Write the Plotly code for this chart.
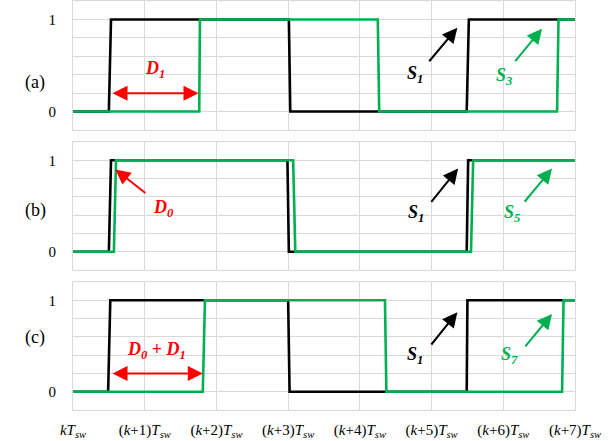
import plotly.graph_objects as go

# ---- data (time in units of T_sw, state 0/1) ----
t_S1_a = [0, 0.50, 0.53, 3.01, 3.03, 5.49, 5.52, 7]
v_S1_a = [0, 0, 1, 1, 0, 0, 1, 1]
t_S3_a = [0, 1.76, 1.77, 4.25, 4.27, 6.75, 6.77, 7]
v_S3_a = [0, 0, 1, 1, 0, 0, 1, 1]

t_S1_b = [0, 0.50, 0.53, 2.99, 3.01, 5.49, 5.51, 7]
v_S1_b = [0, 0, 1, 1, 0, 0, 1, 1]
t_S5_b = [0, 0.57, 0.60, 3.07, 3.10, 5.55, 5.58, 7]
v_S5_b = [0, 0, 1, 1, 0, 0, 1, 1]

t_S1_c = [0, 0.49, 0.52, 3.00, 3.02, 5.49, 5.50, 7]
v_S1_c = [0, 0, 1, 1, 0, 0, 1, 1]
t_S7_c = [0, 1.81, 1.84, 4.35, 4.37, 6.82, 6.84, 7]
v_S7_c = [0, 0, 1, 1, 0, 0, 1, 1]

x_ticks = [0, 1, 2, 3, 4, 5, 6, 7]
x_labels = ["<i>kT</i><sub><i>sw</i></sub>"] + [
    "(<i>k</i>+%d)<i>T</i><sub><i>sw</i></sub>" % i for i in range(1, 8)]
y_ticks = [-0.2, 0, 0.2, 0.4, 0.6, 0.8, 1.0, 1.2]
y_labels = ["", "0", "", "", "", "", "1", ""]
panel_names = ["(a)", "(b)", "(c)"]

BLACK = "#000000"
GREEN = "#00B050"
RED = "#FF0000"
GRID = "#D9D9D9"
FONT = "Liberation Serif"

W, H = 611, 441
x_dom = [73 / W, 575 / W]
panels_px = [(1, 130), (142, 270), (282, 410)]
y_doms = [[1 - b / H, 1 - t / H] for t, b in panels_px]

fig = go.Figure()
series = [
    (t_S1_a, v_S1_a, t_S3_a, v_S3_a),
    (t_S1_b, v_S1_b, t_S5_b, v_S5_b),
    (t_S1_c, v_S1_c, t_S7_c, v_S7_c),
]
for i, (tb, vb, tg, vg) in enumerate(series):
    xa = "x" if i == 0 else "x%d" % (i + 1)
    ya = "y" if i == 0 else "y%d" % (i + 1)
    fig.add_trace(go.Scatter(x=tb, y=vb, mode="lines", line=dict(color=BLACK, width=2.6),
                             xaxis=xa, yaxis=ya, showlegend=False, hoverinfo="skip"))
    fig.add_trace(go.Scatter(x=tg, y=vg, mode="lines", line=dict(color=GREEN, width=2.6),
                             xaxis=xa, yaxis=ya, showlegend=False, hoverinfo="skip"))

layout = dict(width=W, height=H, margin=dict(l=0, r=0, t=0, b=0, autoexpand=False),
              template="none",
              paper_bgcolor="white", plot_bgcolor="white", showlegend=False,
              font=dict(family=FONT, size=13, color="black"))
for i in range(3):
    sx = "" if i == 0 else str(i + 1)
    layout["xaxis" + sx] = dict(domain=x_dom, range=[0, 7], tickvals=x_ticks,
                                ticktext=x_labels, showticklabels=(i == 2),
                                showgrid=True, gridcolor=GRID, gridwidth=1,
                                zeroline=False, showline=True, linecolor=GRID,
                                linewidth=1, mirror=True, anchor="y" + sx,
                                ticks="", ticklabelstandoff=6, automargin=False,
                                tickfont=dict(family=FONT, size=15))
    layout["yaxis" + sx] = dict(domain=y_doms[i], range=[-0.2, 1.2], tickvals=y_ticks,
                                ticktext=y_labels, showgrid=True, gridcolor=GRID,
                                gridwidth=1, zeroline=False, showline=True,
                                linecolor=GRID, linewidth=1, mirror=True,
                                anchor="x" + sx, ticks="", ticklabelstandoff=13,
                                automargin=False,
                                tickfont=dict(family=FONT, size=15))
fig.update_layout(**layout)

ann = []
# panel labels
for i, name in enumerate(panel_names):
    yc = [70, 210, 350][i]
    ann.append(dict(text=name, xref="paper", yref="paper", x=23 / W, y=1 - yc / H,
                    showarrow=False, font=dict(family=FONT, size=18, color="black")))


def label(i, x, y, text, color, size=18):
    sx = "" if i == 0 else str(i + 1)
    ann.append(dict(text=text, xref="x" + sx, yref="y" + sx, x=x, y=y, showarrow=False,
                    font=dict(family=FONT, size=size, color=color)))


def arrow(i, x0, y0, x1, y1, color, both=False):
    sx = "" if i == 0 else str(i + 1)
    d = dict(text="", xref="x" + sx, yref="y" + sx, axref="x" + sx, ayref="y" + sx,
             x=x1, y=y1, ax=x0, ay=y0, showarrow=True, arrowhead=2, arrowsize=1.5,
             arrowwidth=2, arrowcolor=color, standoff=0, startstandoff=0)
    if both:
        d.update(arrowside="end+start", startarrowhead=2, startarrowsize=1.5)
    ann.append(d)


S = lambda n: "<b><i>S<sub>%s</sub></i></b>" % n
Dn = lambda n: "<b><i>D<sub>%s</sub></i></b>" % n

# panel (a)
label(0, 1.14, 0.46, Dn(1), RED)
arrow(0, 0.53, 0.2, 1.75, 0.2, RED, both=True)
label(0, 4.77, 0.40, S(1), BLACK)
arrow(0, 4.95, 0.53, 5.36, 0.91, BLACK)
label(0, 6.01, 0.38, S(3), GREEN)
arrow(0, 6.15, 0.53, 6.54, 0.90, GREEN)

# panel (b)
label(1, 1.26, 0.47, Dn(0), RED)
arrow(1, 1.03, 0.63, 0.59, 0.90, RED)
label(1, 4.78, 0.42, S(1), BLACK)
arrow(1, 4.98, 0.53, 5.37, 0.91, BLACK)
label(1, 6.12, 0.42, S(5), GREEN)
arrow(1, 6.28, 0.53, 6.68, 0.91, GREEN)

# panel (c)
label(2, 1.17, 0.45, Dn(0) + "<b> + </b>" + Dn(1), RED)
arrow(2, 0.53, 0.2, 1.81, 0.2, RED, both=True)
label(2, 4.77, 0.40, S(1), BLACK)
arrow(2, 4.98, 0.50, 5.36, 0.87, BLACK)
label(2, 6.09, 0.40, S(7), GREEN)
arrow(2, 6.29, 0.48, 6.68, 0.85, GREEN)

fig.update_layout(annotations=ann)
fig.write_html("out.html", config={"displayModeBar": False},
               post_script="document.body.style.margin='0';document.body.style.overflow='hidden';")
